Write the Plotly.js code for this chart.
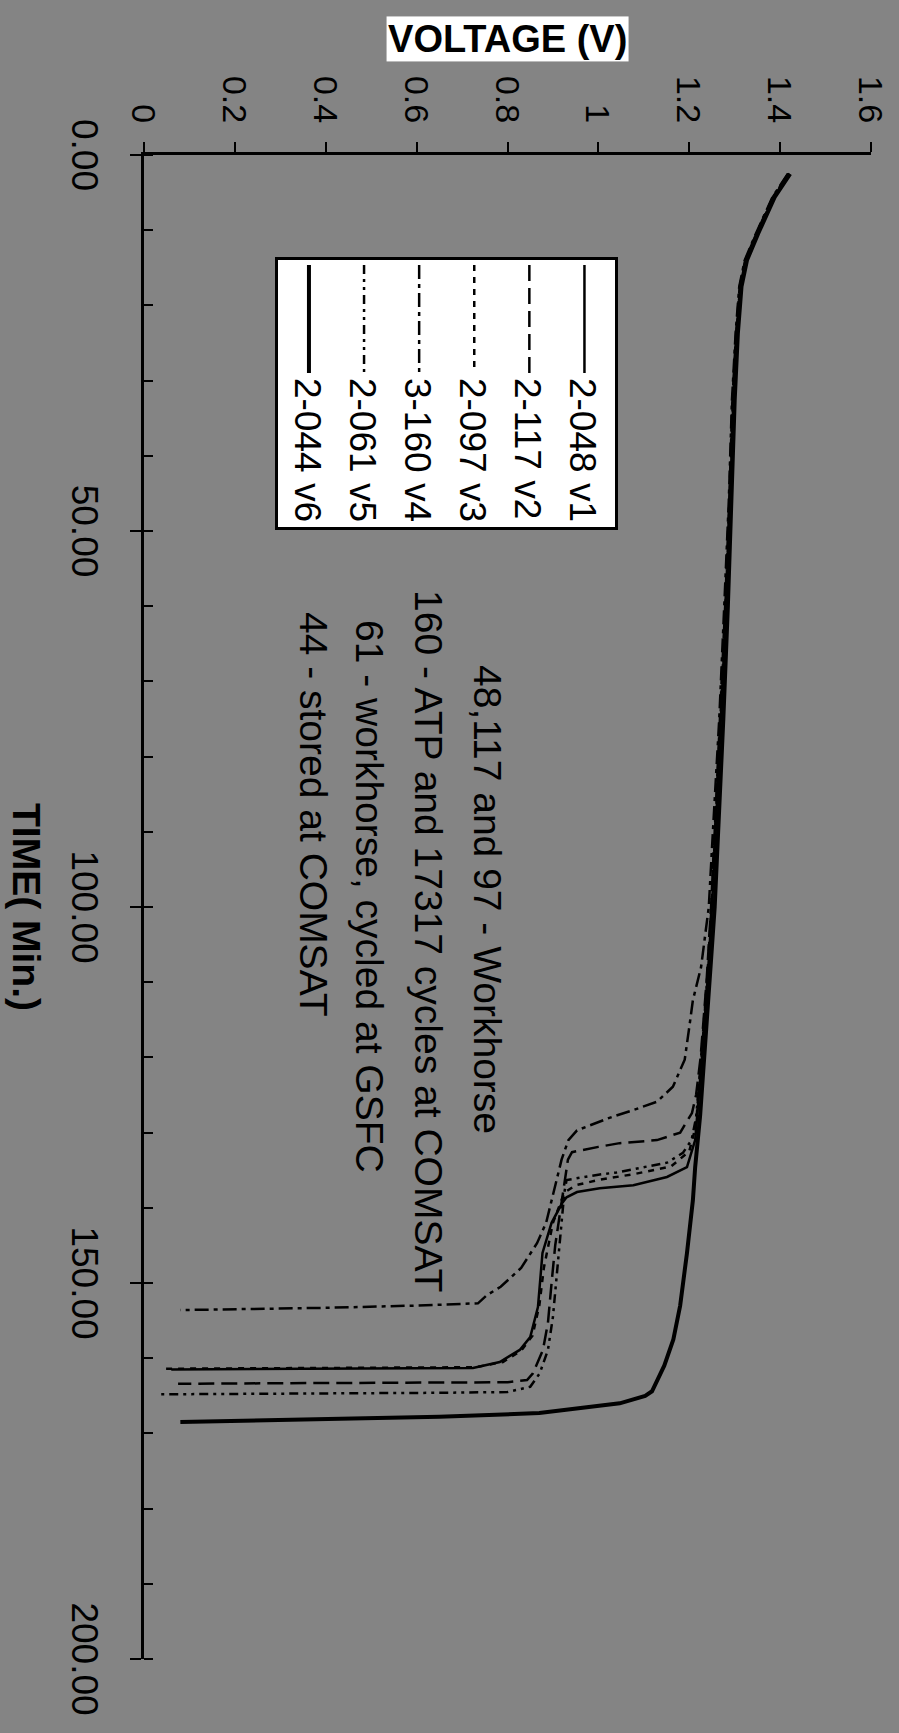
<!DOCTYPE html>
<html><head><meta charset="utf-8">
<script src="https://cdn.plot.ly/plotly-3.0.1.min.js"></script>
<style>
html,body{margin:0;padding:0;width:899px;height:1733px;overflow:hidden;background:#848484;}
#wrap{position:absolute;left:0;top:0;width:1733px;height:899px;transform-origin:0 0;transform:translate(899px,0) rotate(90deg);}
#chart{width:1733px;height:899px;}
</style></head><body><div id="wrap"><div id="chart"></div></div>
<script>
// Series names
const seriesNames = ["2-048 v1","2-117 v2","2-097 v3","3-160 v4","2-061 v5","2-044 v6"];

// Time (min) and voltage (V) for each cell
const time_v1 = [2.5,5.6,10.4,14,17.5,23.7,32.6,46,60,75,90,100,110,120,127,131,134.6,135.9,137,137.4,137.9,138.6,139.4,142,146,150,153.2,157.2,158.9,160.5,161.3,161.4,161.5];
const volt_v1 = [1.42,1.386,1.35,1.325,1.313,1.305,1.297,1.29,1.281,1.27,1.258,1.25,1.24,1.228,1.218,1.213,1.195,1.151,1.077,1.003,0.953,0.93,0.92,0.897,0.877,0.871,0.867,0.85,0.827,0.783,0.724,0.35,0.06];

const time_v2 = [2.5,5.6,10.4,14,17.5,23.7,32.6,46,60,75,90,100,110,120,125,127.4,130,131,131.4,131.9,132.6,133.6,136.3,139,145,150,155.3,158.9,162,162.9,163.2,163.3,163.4];
const volt_v2 = [1.418,1.384,1.348,1.323,1.311,1.303,1.295,1.288,1.279,1.268,1.256,1.248,1.238,1.225,1.215,1.206,1.18,1.129,1.047,1.0,0.942,0.933,0.926,0.92,0.905,0.897,0.889,0.878,0.856,0.843,0.8,0.4,0.075];

const time_v3 = [2.5,5.6,10.4,14,17.5,23.7,32.6,46,60,75,90,100,110,120,129,132.5,134.5,135.5,136.3,137,138,142,148,153,157,159,160.5,161.2,161.3,161.4];
const volt_v3 = [1.42,1.385,1.349,1.324,1.312,1.304,1.296,1.289,1.28,1.269,1.257,1.249,1.239,1.226,1.215,1.2,1.16,1.08,1.0,0.95,0.925,0.9,0.88,0.87,0.855,0.83,0.79,0.73,0.4,0.045];

const time_v4 = [2.5,5.6,10.4,14,17.5,23.7,32.6,46,60,75,90,100,108,112.4,116,120.3,123.9,125.9,127,128,129.7,131,133.6,136.3,139,142,144.7,148,150.5,151.6,152.7,153,153.3,153.6];
const volt_v4 = [1.417,1.383,1.347,1.322,1.31,1.302,1.294,1.287,1.277,1.266,1.252,1.243,1.226,1.208,1.2,1.19,1.164,1.129,1.077,1.026,0.953,0.934,0.919,0.908,0.898,0.885,0.865,0.83,0.785,0.755,0.735,0.6,0.4,0.08];

const time_v5 = [2.5,5.6,10.4,14,17.5,23.7,32.6,46,60,75,90,100,110,120,128,131,132.7,134,134.7,135.3,135.6,136,136.3,138,144,150,154.5,158.9,162,163.8,164.5,164.6,164.8];
const volt_v5 = [1.419,1.385,1.349,1.324,1.312,1.304,1.296,1.289,1.28,1.269,1.257,1.249,1.239,1.227,1.215,1.205,1.186,1.151,1.09,1.04,1.0,0.96,0.93,0.925,0.916,0.908,0.9,0.889,0.871,0.85,0.8,0.65,0.035];

const time_v6 = [2.5,5.6,10.4,14,17.5,23.7,32.6,46,60,75,90,100,107,114,120.7,127.7,134.6,139,146,153,157.5,161,164.4,165,166,166.6,167.3,167.8,168.1,168.5];
const volt_v6 = [1.422,1.388,1.352,1.327,1.315,1.307,1.3,1.293,1.285,1.275,1.264,1.256,1.248,1.24,1.232,1.224,1.213,1.208,1.195,1.18,1.165,1.145,1.118,1.103,1.047,0.96,0.87,0.65,0.43,0.08];

// Annotation notes
const noteTexts = ["48,117 and 97 - Workhorse","160 - ATP and 17317 cycles at COMSAT","61 - workhorse, cycled at GSFC","44 - stored at COMSAT"];
const noteTime = [67.6, 57.6, 61.6, 60.5];
const noteVolt = [0.755, 0.627, 0.497, 0.372];

const times = [time_v1,time_v2,time_v3,time_v4,time_v5,time_v6];
const volts = [volt_v1,volt_v2,volt_v3,volt_v4,volt_v5,volt_v6];
const dashes = ["solid","16px,7px","6px,6px","14px,5px,4px,5px","9px,5px,3px,5px,3px,5px","solid"];
const widths = [2.5,2.5,2.5,2.5,2.5,4];

const traces = seriesNames.map((n,i)=>({
  type:'scatter', mode:'lines', name:n, legendgroup:'g'+i, x:times[i], y:volts[i],
  line:{color:'black', width:widths[i], dash:dashes[i]}
}));

const FONT = 'Liberation Sans, Arial, Helvetica, sans-serif';
const annotations = noteTexts.map((t,i)=>({
  xref:'x', yref:'y', x:noteTime[i], y:noteVolt[i], text:t, showarrow:false,
  xanchor:'left', yanchor:'middle', font:{size:39, family:FONT, color:'black'}
}));
annotations.push({
  xref:'paper', yref:'paper', x:-0.0775, y:0.5, text:'<b>VOLTAGE (V)</b>', textangle:-90,
  showarrow:false, bgcolor:'white', borderpad:1, xanchor:'center', yanchor:'middle',
  font:{size:38, family:FONT, color:'black'}
});

const layout = {
  width:1733, height:899,
  margin:{l:155, r:74, t:28, b:144},
  paper_bgcolor:'#848484', plot_bgcolor:'#848484',
  font:{family:FONT, color:'black'},
  showlegend:true,
  legend:{x:0.0678, y:0.652, xanchor:'left', yanchor:'top', bgcolor:'white', traceorder:'grouped',
    tracegroupgap:4,
    bordercolor:'black', borderwidth:3, font:{size:37, family:FONT, color:'black'}, itemwidth:108},
  xaxis:{range:[0,200], tick0:0, dtick:50, tickformat:'.2f', ticks:'outside', ticklen:11, tickwidth:2,
    tickcolor:'black', showline:true, linewidth:3, linecolor:'black', showgrid:false, zeroline:false,
    tickfont:{size:37}, ticklabelstandoff:14,
    minor:{dtick:10, tick0:0, ticks:'inside', ticklen:9, tickwidth:2, tickcolor:'black', showgrid:false},
    title:{text:'<b>TIME( Min.)</b>', font:{size:39}, standoff:25}},
  yaxis:{range:[0,1.6], tick0:0, dtick:0.2, ticks:'outside', ticklen:10, tickwidth:2, tickcolor:'black',
    showline:true, linewidth:3, linecolor:'black', showgrid:false, zeroline:false,
    tickfont:{size:34}, ticklabelstandoff:12},
  annotations:annotations
};

Plotly.newPlot('chart', traces, layout, {displayModeBar:false, staticPlot:true});
</script></body></html>
